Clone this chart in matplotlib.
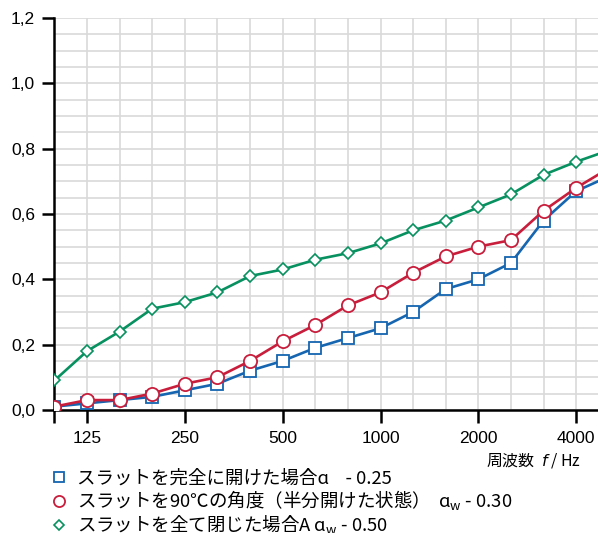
import matplotlib
matplotlib.use("Agg")
import matplotlib.pyplot as plt
from matplotlib.lines import Line2D
from matplotlib.ticker import FuncFormatter, MultipleLocator

# 1/3 octave band centre frequencies
freqs = [100, 125, 160, 200, 250, 315, 400, 500, 630, 800,
         1000, 1250, 1600, 2000, 2500, 3150, 4000, 5000]
open_full = [0.01, 0.02, 0.03, 0.04, 0.06, 0.08, 0.12, 0.15, 0.19, 0.22,
             0.25, 0.30, 0.37, 0.40, 0.45, 0.58, 0.67, 0.715]
open_half = [0.01, 0.03, 0.03, 0.05, 0.08, 0.10, 0.15, 0.21, 0.26, 0.32,
             0.36, 0.42, 0.47, 0.50, 0.52, 0.61, 0.68, 0.74]
closed = [0.09, 0.18, 0.24, 0.31, 0.33, 0.36, 0.41, 0.43, 0.46, 0.48,
          0.51, 0.55, 0.58, 0.62, 0.66, 0.72, 0.76, 0.795]
tick_freqs = [100, 125, 250, 500, 1000, 2000, 4000]
tick_labels = ["", "125", "250", "500", "1000", "2000", "4000"]
legend_labels = [
    "スラットを完全に開けた場合ɑ    - 0.25",
    r"スラットを90℃の角度（半分開けた状態）  ɑ$_\mathregular{w}$ - 0.30",
    r"スラットを全て閉じた場合A ɑ$_\mathregular{w}$ - 0.50",
]

BLUE = "#1565b0"
RED = "#c81e3c"
GREEN = "#079060"
CJK = ["Noto Sans CJK JP", "DejaVu Sans"]

plt.rcParams["font.family"] = ["Liberation Sans", "DejaVu Sans"]
plt.rcParams["mathtext.fontset"] = "custom"
plt.rcParams["mathtext.rm"] = "Noto Sans CJK JP"
plt.rcParams["mathtext.it"] = "DejaVu Sans:italic"

fig = plt.figure(figsize=(5.98, 5.33), dpi=100)
ax = fig.add_axes([0.091, 0.231, 0.909, 0.735])

xs = list(range(len(freqs)))
ax.plot(xs, open_full, color=BLUE, lw=1.9, marker="s", ms=8.5,
        mfc="white", mec=BLUE, mew=1.3, zorder=3)
ax.plot(xs, open_half, color=RED, lw=1.9, marker="o", ms=9.5,
        mfc="white", mec=RED, mew=1.3, zorder=4)
ax.plot(xs, closed, color=GREEN, lw=1.9, marker="D", ms=6,
        mfc="white", mec=GREEN, mew=1.2, zorder=3)

ax.set_xticks([freqs.index(f) for f in tick_freqs])
ax.set_xticklabels(tick_labels)
ax.set_xticks(xs, minor=True)
ax.set_xlim(0, 16.67)
ax.set_ylim(0, 1.2)
ax.yaxis.set_major_locator(MultipleLocator(0.2))
ax.yaxis.set_minor_locator(MultipleLocator(0.05))
ax.yaxis.set_major_formatter(
    FuncFormatter(lambda v, p: f"{v:.1f}".replace(".", ",")))

ax.grid(True, which="both", color="#d9d9d9", lw=1.2, zorder=0)
ax.set_axisbelow(True)
ax.tick_params(axis="both", which="major", direction="out", length=9,
               width=1.8, labelsize=12.5, color="black")
ax.tick_params(axis="x", which="major", pad=6)
ax.tick_params(axis="y", which="major", pad=5)
ax.tick_params(axis="both", which="minor", length=0)
for side in ["top", "right"]:
    ax.spines[side].set_visible(False)
for side in ["left", "bottom"]:
    ax.spines[side].set_linewidth(1.8)

fig.text(0.972, 1 - 460 / 533, "周波数  $f$ / Hz", ha="right", va="center",
         fontsize=11.5, family=CJK)

handles = [
    Line2D([], [], ls="none", marker="s", ms=7, mfc="white", mec=BLUE, mew=1.3),
    Line2D([], [], ls="none", marker="o", ms=8, mfc="white", mec=RED, mew=1.3),
    Line2D([], [], ls="none", marker="D", ms=5.5, mfc="white", mec=GREEN, mew=1.2),
]
fig.legend(handles, legend_labels, loc="upper left",
           bbox_to_anchor=(0.068, 1 - 460 / 533), frameon=False,
           prop={"family": CJK, "size": 13.3}, handlelength=1.0,
           handletextpad=0.45, labelspacing=0.05, borderpad=0)

fig.savefig("out.png", dpi=100)
